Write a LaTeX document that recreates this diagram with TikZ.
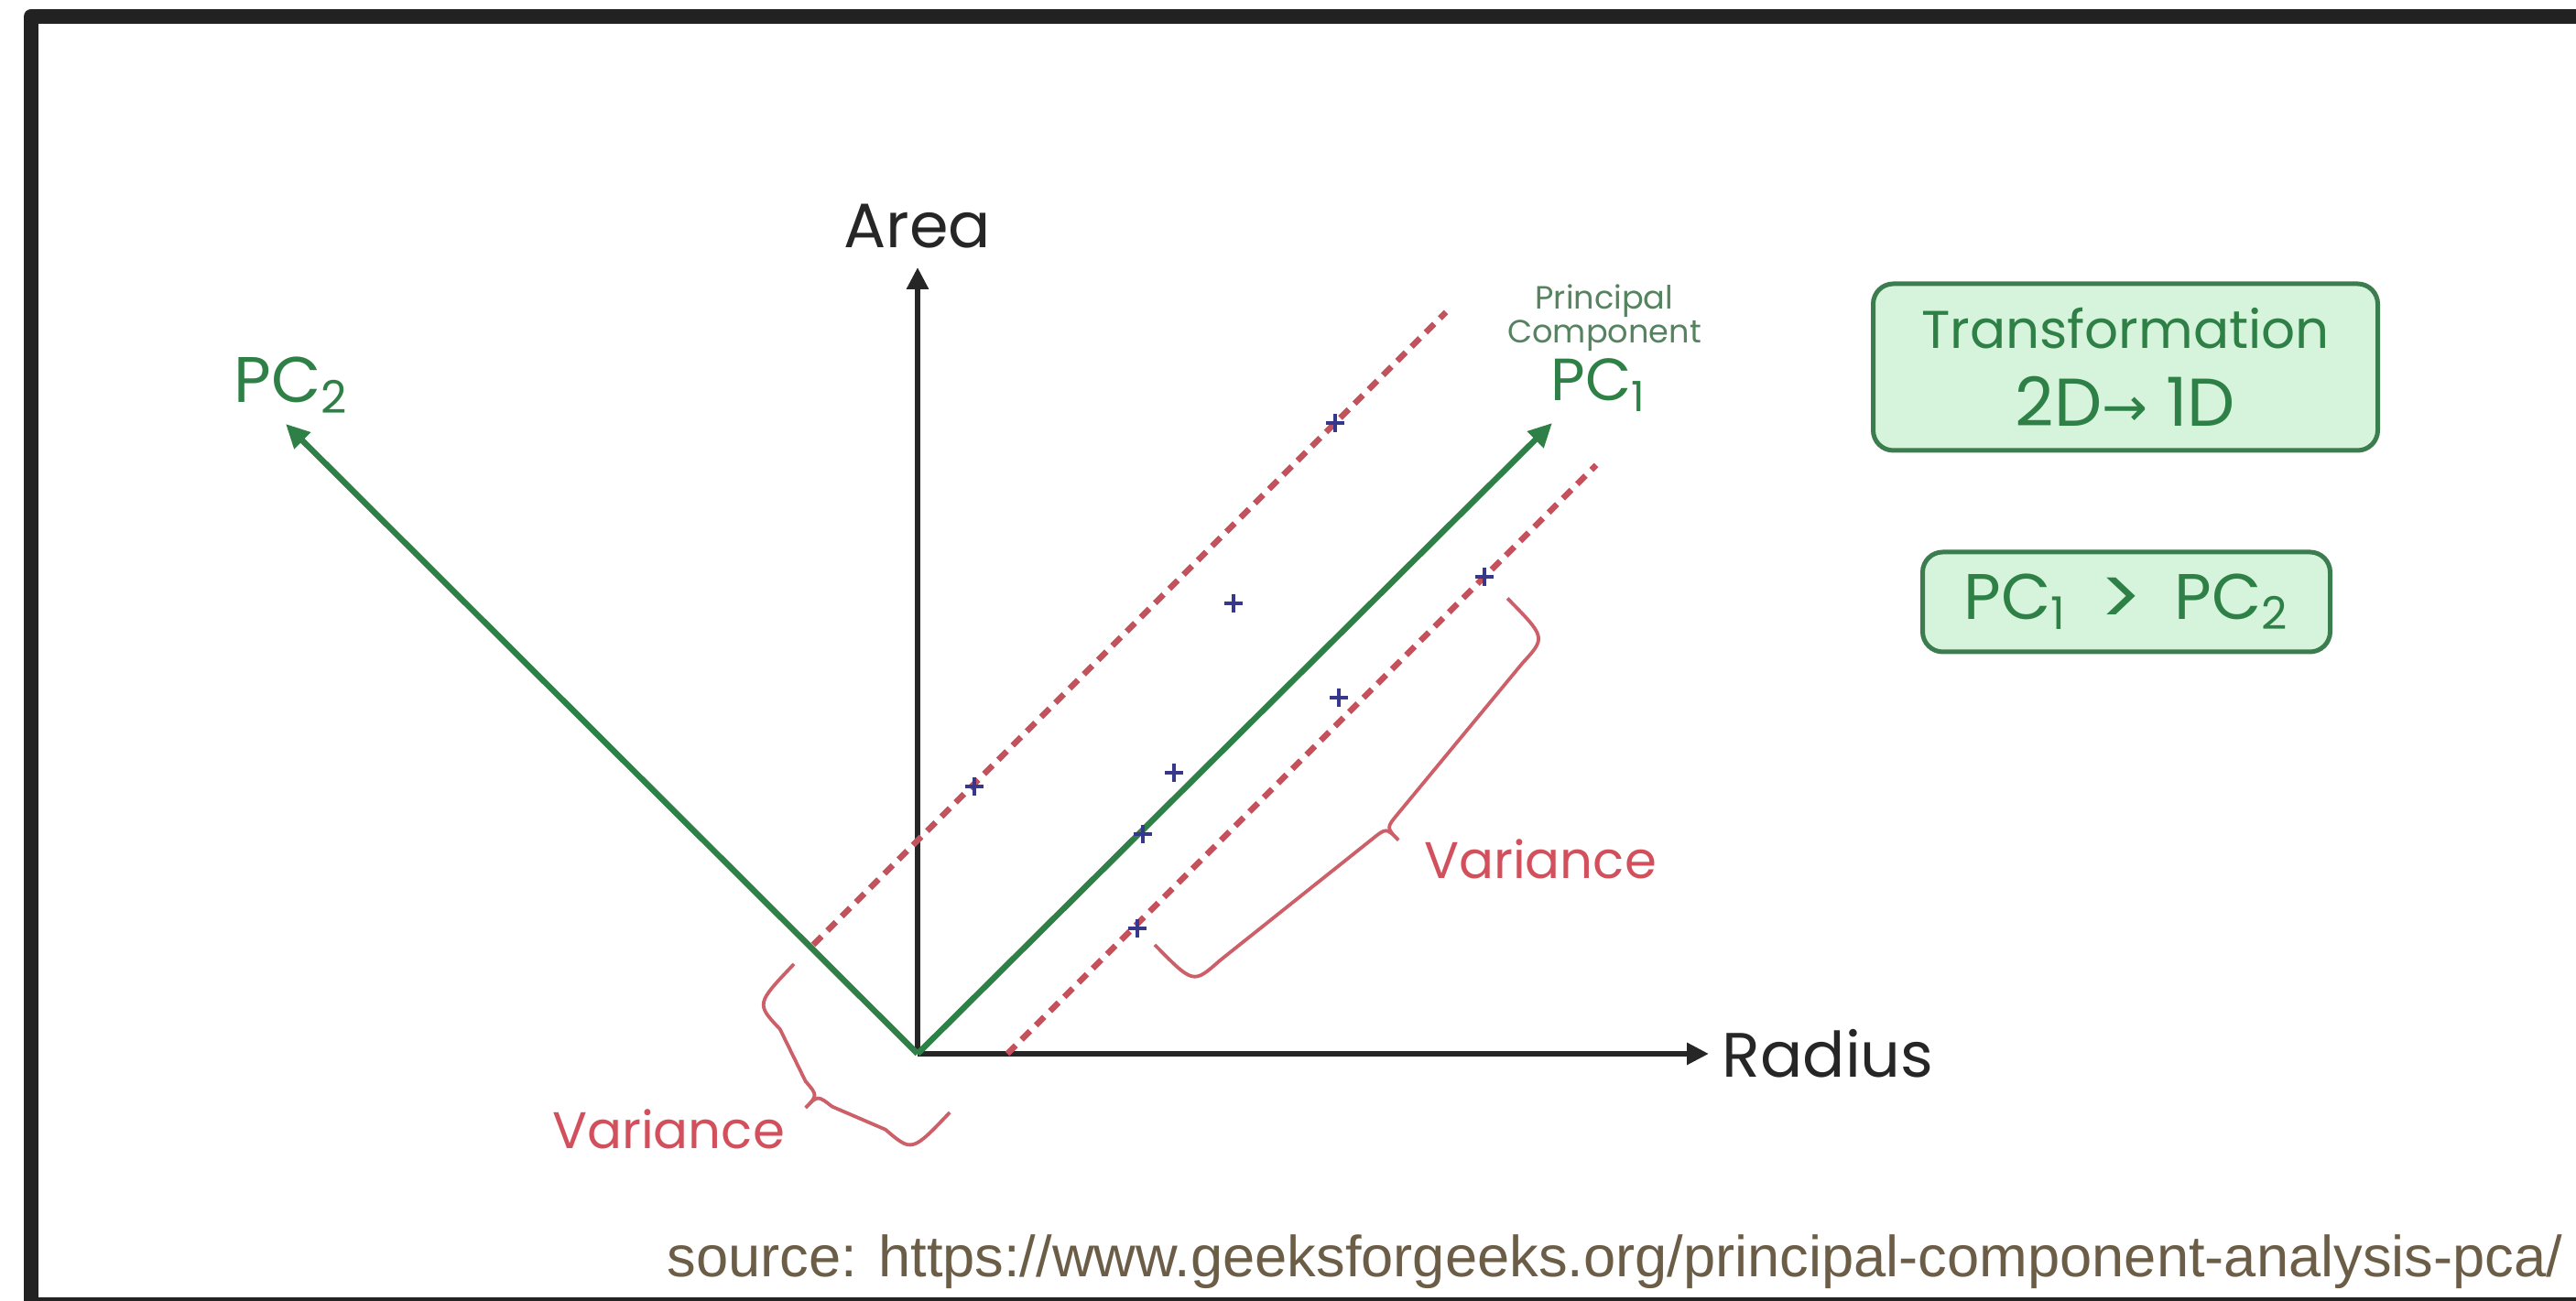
\documentclass[tikz,border=0pt]{standalone}
\usepackage{fontspec}
\setmainfont{Poppins}
\newfontfamily\srcfont{Liberation Sans}
\newfontfamily\arrowfont{DejaVu Sans}
\usetikzlibrary{arrows.meta,positioning}
\definecolor{framegray}{RGB}{34,34,34}
\definecolor{axisgray}{RGB}{38,38,38}
\definecolor{pcgreen}{RGB}{46,128,70}
\definecolor{pcgray}{RGB}{85,130,95}
\definecolor{spreadred}{RGB}{196,82,92}
\definecolor{bracered}{RGB}{205,95,105}
\definecolor{varred}{RGB}{210,80,92}
\definecolor{ptblue}{RGB}{55,55,140}
\definecolor{boxgreen}{RGB}{60,125,80}
\definecolor{boxfill}{RGB}{214,244,220}
\definecolor{srcbrown}{RGB}{107,93,70}
\tikzset{
	pics/varbrace/.style={code={
		\draw [draw=bracered, line width=0.038cm] (0,0) .. controls (0,0.6) .. (0.38,0.62) -- ({#1/2-0.2},0.84) .. controls ({#1/2},0.86) .. ({#1/2},1.05)
			.. controls ({#1/2},0.86) .. ({#1/2+0.2},0.84) -- ({#1-0.38},0.62) .. controls (#1,0.6) .. (#1,0);
	}}
}
\begin{document}
\begin{tikzpicture}[
	axis/.style={line width=0.06cm, draw=axisgray, -{Triangle[length=0.24cm, width=0.23cm]}},
	pc/.style={line width=0.065cm, draw=pcgreen, -{Triangle[length=0.26cm, width=0.24cm]}},
	spread/.style={line width=0.065cm, draw=spreadred, dash pattern=on 0.13cm off 0.09cm},
	pt/.style={draw=ptblue, line width=0.032cm},
	box/.style={draw=boxgreen, fill=boxfill, line width=0.05cm, rounded corners=0.22cm, text=pcgreen, align=center, inner sep=0pt},
	lbl/.style={inner sep=0pt, anchor=base west}
]
\useasboundingbox (0,0) rectangle (28.13,14.21);
% frame
\begin{scope}
	\clip (0,0) rectangle (28.13,14.21);
	\draw [line width=0.16cm, draw=framegray, line join=round] (0.34,-0.04) rectangle (29,14.03);
\end{scope}

% axes
\coordinate (O) at (10.02,2.70);
\coordinate (ytip) at (10.02,11.29);
\coordinate (xtip) at (18.66,2.70);
\draw [axis] (O) -- (ytip);
\draw [axis] (O) -- (xtip);
\node [above=0.2cm of ytip, inner sep=0pt, font=\fontsize{19.5}{22}\selectfont, text=axisgray] (area) {Area};
\node [right=0.14cm of xtip, inner sep=0pt, font=\fontsize{19.5}{22}\selectfont, text=axisgray] (radius) {Radius};

% spread of the data
\coordinate (upA) at (8.88,3.89);
\coordinate (upB) at (15.79,10.80);
\coordinate (loA) at (11.00,2.70);
\coordinate (loB) at (17.43,9.13);
\draw [spread] (upA) -- (upB);
\draw [spread] (loA) -- (loB);

% principal components
\coordinate (pc1tip) at (16.95,9.59);
\coordinate (pc2tip) at (3.12,9.58);
\draw [pc] (O) -- (pc1tip);
\draw [pc] (O) -- (pc2tip);
\node [lbl, font=\fontsize{18.5}{20}\selectfont, text=pcgreen] (pc1) at (16.93,9.83) {PC\textsubscript{1}};
\node [anchor=base, align=center, inner sep=0pt, font=\fontsize{10}{10.8}\selectfont, text=pcgray] (pcname) at (17.52,10.46) {Principal\\Component};
\node [lbl, font=\fontsize{20}{22}\selectfont, text=pcgreen] (pc2) at (2.55,9.81) {PC\textsubscript{2}};

% data points
\foreach \px/\py in {14.58/9.59, 13.47/7.62, 16.21/7.91, 14.62/6.59, 12.82/5.77, 12.48/5.10, 12.42/4.07, 10.64/5.62}
	\draw [pt] (\px,\py) +(-0.1,0) -- +(0.1,0) +(0,-0.1) -- +(0,0.1);

% variance braces
\coordinate (bigB) at (12.61,3.89);
\pic [rotate=44.5, yscale=-1] at (bigB) {varbrace=5.40};
\node [font=\fontsize{16}{18}\selectfont, text=varred] (bigvar) at (16.82,4.83) {Variance};
\coordinate (smallA) at (8.67,3.68);
\pic [rotate=-43.6, yscale=-1] at (smallA) {varbrace=2.35};
\node [font=\fontsize{16}{18}\selectfont, text=varred] (smallvar) at (7.30,1.88) {Variance};

% boxes
\node [box, minimum width=5.51cm, minimum height=1.82cm, font=\fontsize{16.5}{24}\selectfont] (transform) at (23.21,10.20) {Transformation\\{\fontsize{21}{24}\selectfont 2D{\arrowfont\fontsize{17}{20}\selectfont →} 1D}};
\node [box, minimum width=4.45cm, minimum height=1.09cm, font=\fontsize{20}{22}\selectfont] (compare) at (23.22,7.635) {PC\textsubscript{1}\enspace\raisebox{-2pt}{\fontsize{25}{22}\selectfont >}\enspace PC\textsubscript{2}};

% source
\node [anchor=base east, inner sep=0pt, font=\srcfont\fontsize{18}{20}\selectfont, text=srcbrown] (src) at (27.99,0.26) {source: https://www.geeksforgeeks.org/principal-component-analysis-pca/};
\end{tikzpicture}
\end{document}
